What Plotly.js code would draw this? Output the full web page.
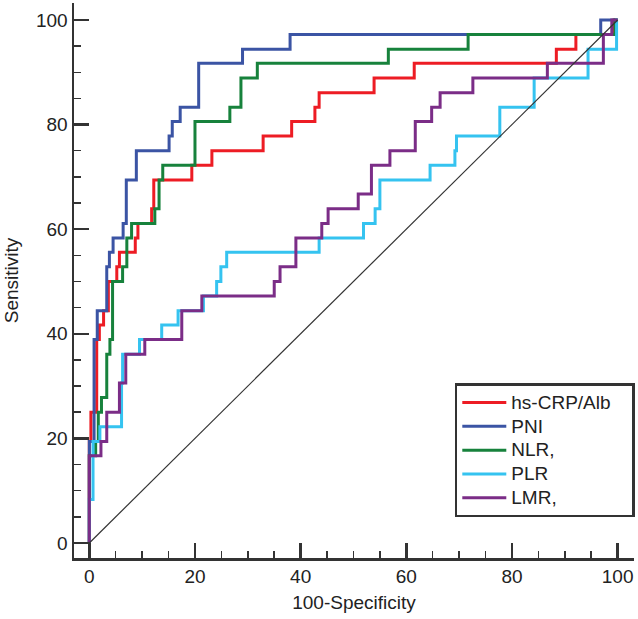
<!DOCTYPE html>
<html>
<head>
<meta charset="utf-8">
<script src="https://cdn.plot.ly/plotly-3.0.1.min.js"></script>
<style>
  body { margin: 0; background: #fff; }
  #plot { width: 638px; height: 619px; }
</style>
</head>
<body>
<div id="plot"></div>
<script>
// ROC curves: 100-Specificity (x) vs Sensitivity (y), step corners
const crpX = [0, 0, 0.3, 1.4, 1.9, 2.7, 3.6, 5.2, 5.7, 8.7, 9.2, 11.8, 12.2, 19.4, 23.2, 32.9, 38.3, 42.7, 43.5, 53.9, 61.5, 88.4, 92.1, 99.3, 100];
const crpY = [0, 19.4, 25, 38.9, 41.7, 44.4, 50, 52.8, 55.6, 58.3, 61.1, 63.9, 69.4, 72.2, 75, 77.8, 80.6, 83.3, 86.1, 88.9, 91.7, 94.4, 97.2, 100, 100];

const pniX = [0, 0, 0.9, 1.5, 3.3, 3.8, 4.5, 6.4, 7.0, 8.9, 15.1, 15.7, 17.2, 20.7, 29.0, 38.0, 96.8, 100];
const pniY = [0, 19.4, 38.9, 44.4, 52.8, 55.6, 58.3, 61.1, 69.4, 75, 77.8, 80.6, 83.3, 91.7, 94.4, 97.2, 100, 100];

const nlrX = [0, 0, 1.2, 1.7, 2.3, 3.3, 3.9, 4.4, 6.3, 7.1, 8.0, 12.4, 13.2, 13.9, 20.0, 26.6, 28.7, 31.8, 56.6, 71.7, 99.5, 100];
const nlrY = [0, 16.7, 19.4, 25, 27.8, 36.1, 38.9, 50, 52.8, 58.3, 61.1, 63.9, 69.4, 72.2, 80.6, 83.3, 88.9, 91.7, 94.4, 97.2, 100, 100];

const plrX = [0, 0, 0.7, 2.0, 6.1, 6.3, 9.5, 13.7, 16.8, 21.6, 24.1, 24.9, 26.0, 43.5, 51.9, 54.1, 55.0, 64.5, 69.2, 69.5, 77.7, 84.2, 94.4, 99.8, 100];
const plrY = [0, 8.3, 19.4, 22.2, 30.6, 36.1, 38.9, 41.7, 44.4, 47.2, 50, 52.8, 55.6, 58.3, 61.1, 63.9, 69.4, 72.2, 75, 77.8, 83.3, 88.9, 94.4, 100, 100];

const lmrX = [0, 0, 2.2, 3.3, 5.7, 6.9, 10.5, 17.5, 21.3, 35.0, 36.1, 39.1, 44.0, 45.2, 50.9, 53.4, 56.9, 61.7, 64.8, 66.4, 72.6, 86.7, 97.3, 98.9, 100];
const lmrY = [0, 16.7, 19.4, 25, 30.6, 36.1, 38.9, 44.4, 47.2, 50, 52.8, 58.3, 61.1, 63.9, 66.7, 72.2, 75, 80.6, 83.3, 86.1, 88.9, 91.7, 97.2, 100, 100];

const diagX = [0, 100];
const diagY = [0, 100];

const names = ["hs-CRP/Alb", "PNI", "NLR,", "PLR", "LMR,"];
const colors = ["#ed1c24", "#3b54a4", "#17823c", "#35c3f0", "#7b2d87"];
const xs = [crpX, pniX, nlrX, plrX, lmrX];
const ys = [crpY, pniY, nlrY, plrY, lmrY];

const font = "Liberation Sans, Arial, sans-serif";

let traces = names.map(function (name, i) {
  // bigger text inside a tighter legend row; pad first entry to widen the box
  let pad = i === 0 ? "&nbsp;&nbsp;&nbsp;" : "";
  return {
    x: xs[i],
    y: ys[i],
    type: "scatter",
    mode: "lines",
    name: '<span style="font-size:19px">' + name + pad + '</span>',
    line: { color: colors[i], width: 3, shape: "hv" }
  };
});

// reference diagonal
traces.push({
  x: diagX,
  y: diagY,
  type: "scatter",
  mode: "lines",
  showlegend: false,
  hoverinfo: "skip",
  line: { color: "#333", width: 1.2 }
});

const axisStyle = {
  showgrid: false,
  zeroline: false,
  showline: true,
  linewidth: 2.5,
  linecolor: "#333",
  ticks: "inside",
  ticklen: 15,
  tickwidth: 2.5,
  tickcolor: "#333",
  tick0: 0,
  dtick: 20,
  tickfont: { family: font, size: 19, color: "#222" },
  minor: { tick0: 0, dtick: 5, ticks: "inside", ticklen: 7, tickwidth: 1.5, tickcolor: "#333", showgrid: false }
};

let layout = {
  width: 638,
  height: 619,
  margin: { l: 74, r: 4, t: 3, b: 61 },
  paper_bgcolor: "#fff",
  plot_bgcolor: "#fff",
  font: { family: font, size: 19, color: "#222" },
  showlegend: true,
  xaxis: Object.assign({}, axisStyle, {
    range: [-2.9, 103.1],
    title: { text: "100-Specificity", font: { family: font, size: 19, color: "#222" }, standoff: 10 }
  }),
  yaxis: Object.assign({}, axisStyle, {
    range: [-2.87, 103.24],
    title: { text: "Sensitivity", font: { family: font, size: 19, color: "#222" }, standoff: 13 }
  }),
  legend: {
    x: 0.68,
    y: 0.315,
    xanchor: "left",
    yanchor: "top",
    bgcolor: "#fff",
    bordercolor: "#333",
    borderwidth: 2.5,
    itemwidth: 44,
    font: { family: font, size: 16, color: "#222" },
    tracegroupgap: 0
  }
};

Plotly.newPlot("plot", traces, layout, { displayModeBar: false, staticPlot: true });
</script>
</body>
</html>
